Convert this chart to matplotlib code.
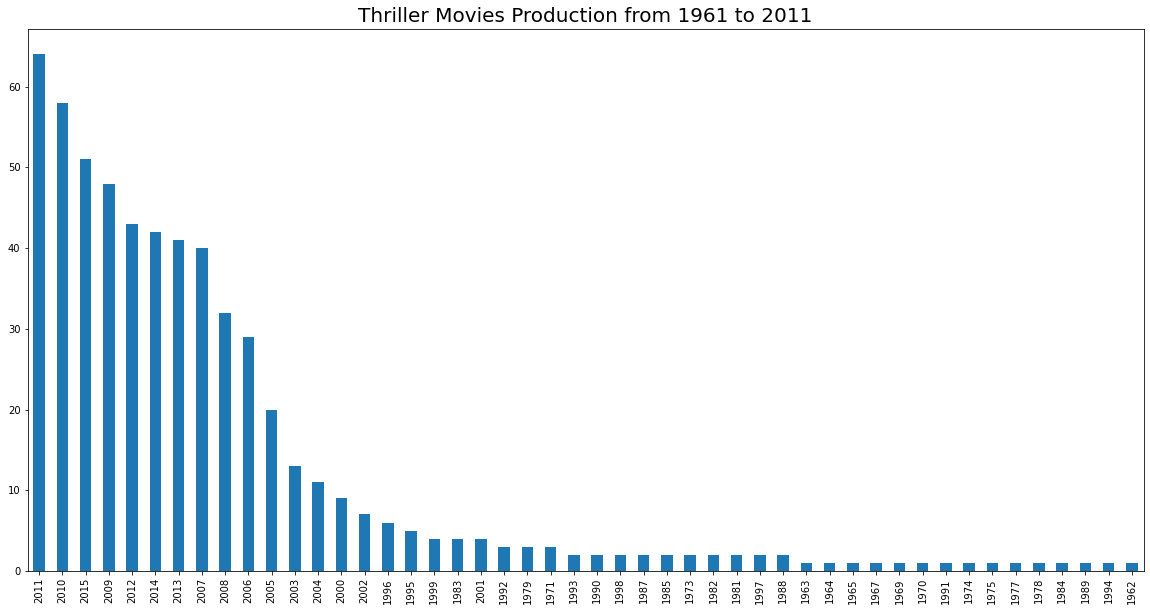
import matplotlib
matplotlib.use("Agg")
import matplotlib.pyplot as plt
import pandas as pd

# anos ordenados pela contagem de filmes (value_counts)
anos = [
    "2011", "2010", "2015", "2009", "2012", "2014", "2013", "2007", "2008", "2006",
    "2005", "2003", "2004", "2000", "2002", "1996", "1995", "1999", "1983", "2001",
    "1992", "1979", "1971", "1993", "1990", "1998", "1987", "1985", "1973", "1982",
    "1981", "1997", "1988", "1963", "1964", "1965", "1967", "1969", "1970", "1991",
    "1974", "1975", "1977", "1978", "1984", "1989", "1994", "1962",
]
contagens = [
    64, 58, 51, 48, 43, 42, 41, 40, 32, 29,
    20, 13, 11, 9, 7, 6, 5, 4, 4, 4,
    3, 3, 3, 2, 2, 2, 2, 2, 2, 2,
    2, 2, 2, 1, 1, 1, 1, 1, 1, 1,
    1, 1, 1, 1, 1, 1, 1, 1,
]

serie = pd.Series(contagens, index=anos)

W, H = 1150, 611
fig = plt.figure(figsize=(W / 72, H / 72), dpi=72)
ax = fig.add_axes([27.5 / W, (H - 571) / H, 1116 / W, 542.5 / H])
serie.plot(kind="bar", ax=ax, color="#1f77b4")
ax.set_title("Thriller Movies Production from 1961 to 2011", fontsize=20)
fig.savefig("out.png", dpi=72)
